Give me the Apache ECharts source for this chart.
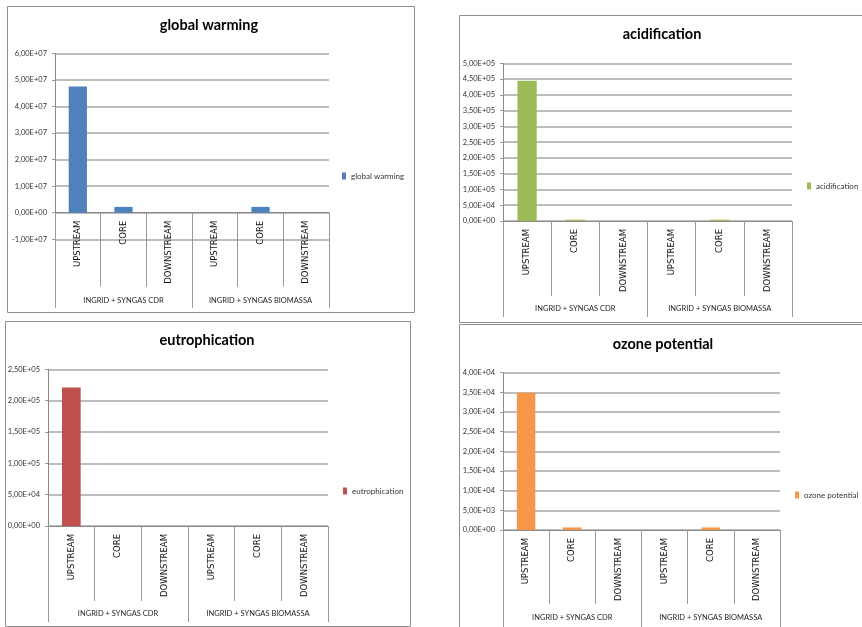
<!DOCTYPE html>
<html>
<head>
<meta charset="utf-8">
<script src="https://cdn.jsdelivr.net/npm/echarts@6/dist/echarts.min.js"></script>
<style>
  html, body { margin: 0; padding: 0; background: #ffffff; }
  #chart { width: 862px; height: 627px; }
</style>
</head>
<body>
<div id="chart"></div>
<script>
// Life-cycle stages along each supply chain, and the two supply chains
const categories = ['UPSTREAM', 'CORE', 'DOWNSTREAM', 'UPSTREAM', 'CORE', 'DOWNSTREAM'];
const groups = ['INGRID + SYNGAS CDR', 'INGRID + SYNGAS BIOMASSA'];

// Impact categories (one chart each)
const seriesNames = ['global warming', 'acidification', 'eutrophication', 'ozone potential'];

// Impact values per stage
const globalWarming  = [4.75e7, 2.2e6, 0, 0, 2.2e6, 0];
const acidification  = [4.45e5, 4.0e3, 0, 0, 4.0e3, 0];
const eutrophication = [2.21e5, 0, 0, 0, 0, 0];
const ozonePotential = [3.49e4, 6.5e2, 0, 0, 6.5e2, 0];

// Value-axis ranges and tick steps
const axisMin  = [-1e7, 0, 0, 0];
const axisMax  = [6e7, 5e5, 2.5e5, 4e4];
const axisStep = [1e7, 5e4, 5e4, 5e3];

const seriesValues = [globalWarming, acidification, eutrophication, ozonePotential];
const barColors = ['#4f81bd', '#9bbb59', '#c0504d', '#f79646'];

// Pixel layout of the four panels
const panels = [
  { frame: [7.5, 6.5, 407, 306],   grid: { left: 55,  top: 53.3,  width: 274, height: 186 },   title: [209, 28], legend: [342, 177], tickLen: 74, groupLen: 95 },
  { frame: [459.5, 15.5, 420, 307], grid: { left: 503, top: 63.3,  width: 289, height: 157.7 }, title: [662, 37], legend: [807, 187], tickLen: 75, groupLen: 96 },
  { frame: [5.5, 321.5, 405, 305],  grid: { left: 48,  top: 369.3, width: 280, height: 156.7 }, title: [207, 343], legend: [343, 492], tickLen: 75, groupLen: 96 },
  { frame: [459.5, 324.5, 420, 320], grid: { left: 503, top: 372.7, width: 277, height: 157.3 }, title: [663, 347], legend: [795, 496], tickLen: 74, groupLen: 97 }
];

const smallFont = "Lato, 'Open Sans', sans-serif";
const stageFont = "'DejaVu Sans', Lato, sans-serif";
const titleFont = "Lato, 'Open Sans', sans-serif";

// Spreadsheet-style scientific notation with decimal comma: 4,50E+05
function sci(v) {
  if (Math.abs(v) < 1e-12) return '0,00E+00';
  const sign = v < 0 ? '-' : '';
  const a = Math.abs(v);
  let exp = Math.floor(Math.log10(a) + 1e-9);
  let mant = a / Math.pow(10, exp);
  if (Number(mant.toFixed(2)) >= 10) { mant /= 10; exp += 1; }
  const expStr = (exp < 0 ? '-' : '+') + String(Math.abs(exp)).padStart(2, '0');
  return sign + mant.toFixed(2).replace('.', ',') + 'E' + expStr;
}

const option = {
  backgroundColor: '#ffffff',
  animation: false,
  title: [],
  legend: [],
  grid: [],
  xAxis: [],
  yAxis: [],
  series: [],
  graphic: []
};

panels.forEach((p, i) => {
  const g = p.grid;
  option.grid.push({ left: g.left, top: g.top, width: g.width, height: g.height, containLabel: false });

  option.graphic.push({
    type: 'rect',
    silent: true,
    z: -10,
    shape: { x: p.frame[0], y: p.frame[1], width: p.frame[2], height: p.frame[3] },
    style: { fill: 'none', stroke: '#8f8f8f', lineWidth: 1 }
  });

  option.title.push({
    text: seriesNames[i],
    left: p.title[0],
    top: p.title[1] - 10,
    textAlign: 'center',
    padding: 0,
    textStyle: { fontFamily: titleFont, fontSize: 14.5, fontWeight: 'bold', color: '#000000' }
  });

  option.legend.push({
    data: [seriesNames[i]],
    left: p.legend[0],
    top: p.legend[1] - 5,
    padding: 0,
    icon: 'rect',
    itemWidth: 4,
    itemHeight: 7,
    selectedMode: false,
    textStyle: { fontFamily: smallFont, fontSize: 8, color: '#333333' }
  });

  // Both category axes are lifted from the grid bottom up to the zero line
  const zeroShift = g.height * (0 - axisMin[i]) / (axisMax[i] - axisMin[i]);

  // Stage axis
  option.xAxis.push({
    gridIndex: i,
    type: 'category',
    position: 'bottom',
    offset: -zeroShift,
    data: categories,
    axisLine: { show: true, onZero: false, lineStyle: { color: '#8a8a8a', width: 1 } },
    axisTick: { show: true, length: p.tickLen, lineStyle: { color: '#9a9a9a', width: 1 } },
    axisLabel: { interval: 0, rotate: 90, margin: 8, fontFamily: stageFont, fontSize: 8.5, color: '#111111' },
    splitLine: { show: false }
  });

  // Supply-chain axis (second level of the category labels)
  option.xAxis.push({
    gridIndex: i,
    type: 'category',
    position: 'bottom',
    offset: -zeroShift,
    data: groups,
    axisLine: { show: false, onZero: false },
    axisTick: { show: true, length: p.groupLen, lineStyle: { color: '#9a9a9a', width: 1 } },
    axisLabel: { interval: 0, margin: 84, fontFamily: smallFont, fontSize: 7.5, color: '#1e1e1e' },
    splitLine: { show: false }
  });

  option.yAxis.push({
    gridIndex: i,
    type: 'value',
    min: axisMin[i],
    max: axisMax[i],
    interval: axisStep[i],
    axisLine: { show: true, lineStyle: { color: '#8a8a8a', width: 1 } },
    axisTick: { show: true, length: 3, lineStyle: { color: '#9a9a9a' } },
    axisLabel: { margin: 8, formatter: sci, fontFamily: smallFont, fontSize: 7.5, color: '#333333' },
    splitLine: { show: true, lineStyle: { color: '#bdbdbd', width: 2 } }
  });

  option.series.push({
    name: seriesNames[i],
    type: 'bar',
    xAxisIndex: 2 * i,
    yAxisIndex: i,
    barWidth: '40%',
    data: seriesValues[i],
    itemStyle: { color: barColors[i] }
  });
});

const chart = echarts.init(document.getElementById('chart'), null, { renderer: 'canvas' });
chart.setOption(option);
</script>
</body>
</html>
